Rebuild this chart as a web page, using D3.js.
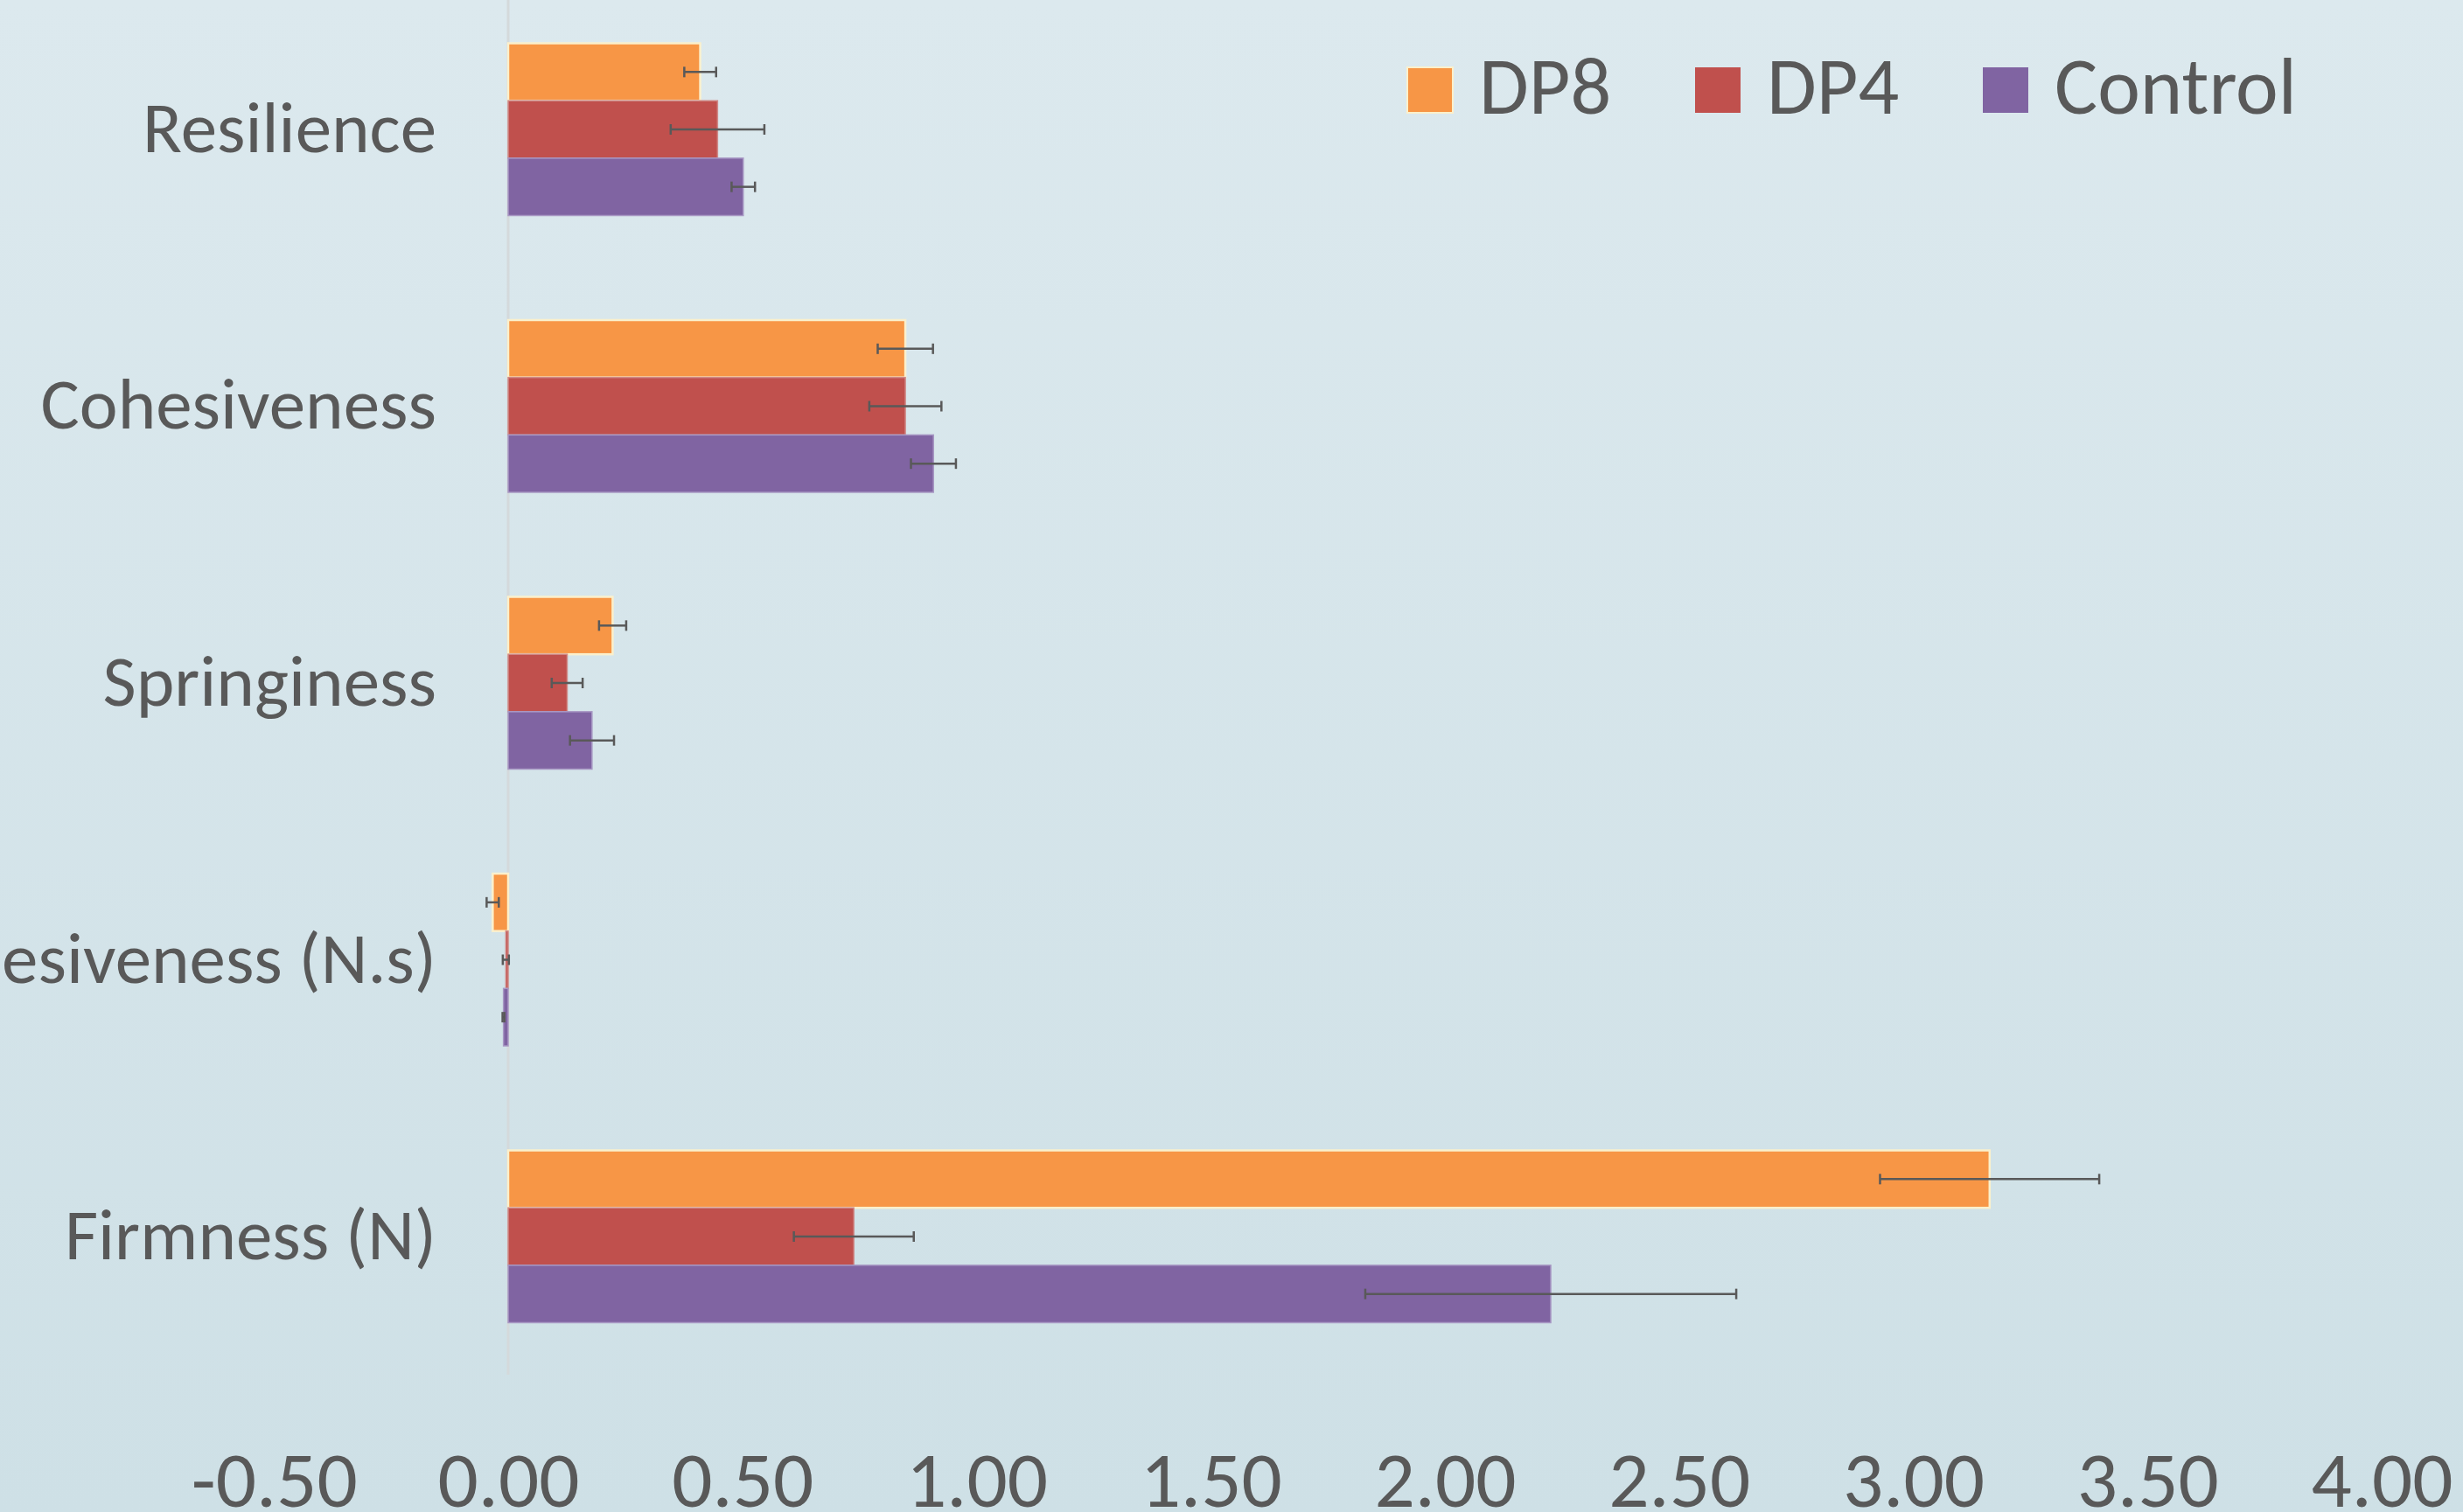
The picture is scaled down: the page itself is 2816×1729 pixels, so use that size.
<!DOCTYPE html>
<html>
<head>
<meta charset="utf-8">
<script src="https://cdn.jsdelivr.net/npm/d3@7"></script>
<style>
  html, body { margin: 0; padding: 0; overflow: hidden; }
  svg { display: block; }
</style>
</head>
<body>
<div class="chart"></div>
<script>
var svgWidth = 2816;
var svgHeight = 1729;

// data
var categories = ["Resilience", "Cohesiveness", "Springiness", "Adhesiveness (N.s)", "Firmness (N)"];
var seriesNames = ["DP8", "DP4", "Control"];
var seriesColors = ["#F79646", "#C0504D", "#8064A2"];
var seriesStrokes = ["#fbf0cc", "#cf8a88", "#a898c4"];

var dp8 = [0.410, 0.848, 0.223, -0.033, 3.163];
var dp8Err = [0.034, 0.059, 0.029, 0.013, 0.234];
var dp4 = [0.447, 0.848, 0.126, -0.005, 0.738];
var dp4Err = [0.100, 0.077, 0.033, 0.0065, 0.128];
var control = [0.502, 0.908, 0.179, -0.010, 2.226];
var controlErr = [0.025, 0.048, 0.047, 0.002, 0.396];

var xTicks = [-0.5, 0, 0.5, 1, 1.5, 2, 2.5, 3, 3.5, 4];

var seriesValues = [dp8, dp4, control];
var seriesErrors = [dp8Err, dp4Err, controlErr];

var fontStack = "Carlito, Calibri, Lato, 'Open Sans', sans-serif";
var textColor = "#595959";

var svg = d3.select(".chart")
  .append("svg")
  .attr("width", svgWidth)
  .attr("height", svgHeight);

// background gradient
var defs = svg.append("defs");
var grad = defs.append("linearGradient")
  .attr("id", "bg")
  .attr("x1", 0).attr("y1", 0)
  .attr("x2", 0).attr("y2", 1);
grad.append("stop").attr("offset", "0%").attr("stop-color", "#dce9ee");
grad.append("stop").attr("offset", "100%").attr("stop-color", "#cee0e6");

svg.append("rect")
  .attr("width", svgWidth)
  .attr("height", svgHeight)
  .attr("fill", "url(#bg)");

var xScale = d3.scaleLinear()
  .domain([-0.5, 4])
  .range([313.25, 2723]);

var yScale = d3.scaleBand()
  .domain(categories)
  .range([-10, 1572])
  .paddingInner(0.3776)
  .paddingOuter(0.188);

var ySub = d3.scaleBand()
  .domain(seriesNames)
  .range([0, yScale.bandwidth()]);

// pick a font size so a sample string gets the width it has in the picture
function fitSize(sample, targetWidth) {
  var t = svg.append("text")
    .attr("font-family", fontStack)
    .attr("font-size", 100)
    .text(sample);
  var w = t.node().getComputedTextLength();
  t.remove();
  return 100 * targetWidth / w;
}

var catSize = fitSize("Resilience", 336);
var tickSize = fitSize("0.00", 162);
var legendSize = fitSize("Control", 277);

// zero line
svg.append("line")
  .attr("x1", xScale(0))
  .attr("x2", xScale(0))
  .attr("y1", 0)
  .attr("y2", 1572)
  .attr("stroke", "#d4d9db")
  .attr("stroke-width", 3);

// bars
var rows = [];
for (var s = 0; s < seriesNames.length; s++) {
  for (var c = 0; c < categories.length; c++) {
    rows.push({
      series: seriesNames[s],
      si: s,
      category: categories[c],
      value: seriesValues[s][c],
      err: seriesErrors[s][c]
    });
  }
}

var bars = svg.append("g");
bars.selectAll("rect")
  .data(rows)
  .enter()
  .append("rect")
  .attr("x", function(d) { return xScale(Math.min(0, d.value)); })
  .attr("y", function(d) { return yScale(d.category) + ySub(d.series); })
  .attr("width", function(d) { return Math.abs(xScale(d.value) - xScale(0)); })
  .attr("height", ySub.bandwidth())
  .attr("fill", function(d) { return seriesColors[d.si]; })
  .attr("stroke", function(d) { return seriesStrokes[d.si]; })
  .attr("stroke-width", function(d) { return d.si == 0 ? 2.5 : 1.5; });

// error bars
var errG = svg.append("g")
  .attr("stroke", "#595959")
  .attr("stroke-width", 2.5)
  .attr("fill", "none");

var errs = errG.selectAll("g")
  .data(rows)
  .enter()
  .append("g");

function midY(d) {
  return yScale(d.category) + ySub(d.series) + ySub.bandwidth() / 2;
}

errs.append("line")
  .attr("x1", function(d) { return xScale(d.value - d.err); })
  .attr("x2", function(d) { return xScale(d.value + d.err); })
  .attr("y1", midY)
  .attr("y2", midY);

errs.append("line")
  .attr("x1", function(d) { return xScale(d.value - d.err); })
  .attr("x2", function(d) { return xScale(d.value - d.err); })
  .attr("y1", function(d) { return midY(d) - 6; })
  .attr("y2", function(d) { return midY(d) + 6; });

errs.append("line")
  .attr("x1", function(d) { return xScale(d.value + d.err); })
  .attr("x2", function(d) { return xScale(d.value + d.err); })
  .attr("y1", function(d) { return midY(d) - 6; })
  .attr("y2", function(d) { return midY(d) + 6; });

// category labels
svg.append("g")
  .selectAll("text")
  .data(categories)
  .enter()
  .append("text")
  .text(function(d) { return d; })
  .attr("x", 499)
  .attr("y", function(d) { return yScale(d) + yScale.bandwidth() / 2 + 26; })
  .attr("text-anchor", "end")
  .attr("font-family", fontStack)
  .attr("font-size", catSize)
  .attr("fill", textColor);

// x axis tick labels (plain hyphen minus, like the original)
var xAxis = d3.axisBottom(xScale)
  .tickValues(xTicks)
  .tickFormat(function(d) { return d.toFixed(2); })
  .tickSize(0)
  .tickPadding(0);

var axisG = svg.append("g")
  .attr("transform", "translate(0,1723)")
  .call(xAxis);
axisG.select(".domain").remove();
axisG.selectAll("text")
  .attr("dy", 0)
  .attr("y", 0)
  .attr("font-family", fontStack)
  .attr("font-size", tickSize)
  .attr("fill", textColor);

// legend
var legendX = [1609, 1938, 2267];
var legend = svg.append("g")
  .selectAll("g")
  .data(seriesNames)
  .enter()
  .append("g")
  .attr("transform", function(d, i) { return "translate(" + legendX[i] + ",77)"; });

legend.append("rect")
  .attr("width", 52)
  .attr("height", 52)
  .attr("fill", function(d, i) { return seriesColors[i]; })
  .attr("stroke", function(d, i) { return i == 0 ? seriesStrokes[0] : "none"; })
  .attr("stroke-width", 2);

legend.append("text")
  .text(function(d) { return d; })
  .attr("x", 82)
  .attr("y", 53)
  .attr("font-family", fontStack)
  .attr("font-size", legendSize)
  .attr("fill", textColor);
</script>
</body>
</html>
